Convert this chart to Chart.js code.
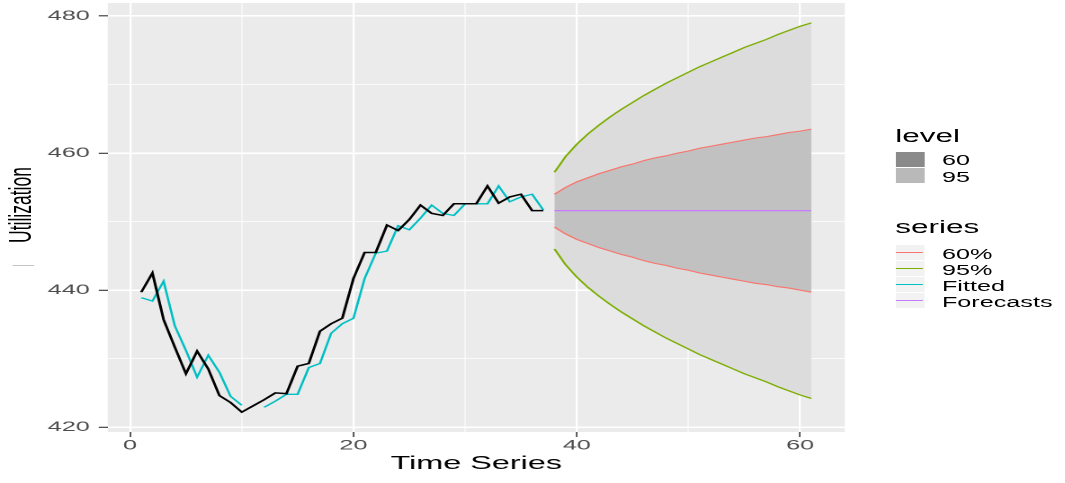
<!DOCTYPE html>
<html>
<head>
<meta charset="utf-8">
<script src="https://cdn.jsdelivr.net/npm/chart.js@4.4.1/dist/chart.umd.min.js"></script>
<style>
  body { margin: 0; background: #ffffff; overflow: hidden; }
  /* the reference is a horizontally stretched R plot, so draw narrow and stretch */
  #wrap { position: absolute; left: 0; top: 0; width: 592px; height: 483px;
          transform: scaleX(1.799); transform-origin: 0 0;
          font-family: "Liberation Sans", Arial, sans-serif; }
  #wrap canvas { position: absolute; left: 0; top: 0; }
  .lbl { position: absolute; white-space: nowrap; line-height: 1; color: #000; }
  .key { position: absolute; left: 497.6px; width: 16px; height: 15px; }
  .kline { position: absolute; left: 0.7px; right: 0.7px; top: 7px; height: 1.3px; }
</style>
</head>
<body>
<div id="wrap">
  <canvas id="chart" width="592" height="483"></canvas>
  <div class="lbl" style="left:12.3px; top:205px; font-size:17.5px; transform:translate(-50%,-50%) rotate(-90deg);">Utilization</div>
  <div style="position:absolute; left:6.7px; top:265px; width:12.8px; height:1px; background:#c4c4c4;"></div>

  <div class="lbl" style="left:497.6px; top:127.5px; font-size:17.5px;">level</div>
  <div class="key" style="top:151.5px; background:#8a8a8a;"></div>
  <div class="key" style="top:167.5px; background:#b9b9b9;"></div>
  <div class="lbl" style="left:523.6px; top:153.2px; font-size:14px;">60</div>
  <div class="lbl" style="left:523.6px; top:170px; font-size:14px;">95</div>

  <div class="lbl" style="left:497.6px; top:219.2px; font-size:17.5px;">series</div>
  <div class="key" style="top:244.8px; background:#f2f2f2;"><div class="kline" style="background:#F8766D;"></div></div>
  <div class="key" style="top:260.8px; background:#f2f2f2;"><div class="kline" style="background:#7CAE00;"></div></div>
  <div class="key" style="top:276.8px; background:#f2f2f2;"><div class="kline" style="background:#00BFC4;"></div></div>
  <div class="key" style="top:292.8px; background:#f2f2f2;"><div class="kline" style="background:#C77CFF;"></div></div>
  <div class="lbl" style="left:523.6px; top:246.5px; font-size:14px;">60%</div>
  <div class="lbl" style="left:523.6px; top:262.5px; font-size:14px;">95%</div>
  <div class="lbl" style="left:523.6px; top:278.5px; font-size:14px;">Fitted</div>
  <div class="lbl" style="left:523.6px; top:294.5px; font-size:14px;">Forecasts</div>
</div>
<script>
// observed series and fitted values
const obsTime = [1,2,3,4,5,6,7,8,9,10,11,12,13,14,15,16,17,18,19,20,21,22,23,24,25,26,27,28,29,30,31,32,33,34,35,36,37];
const obsVals = [439.7,442.5,435.7,431.7,427.8,431.1,428.5,424.6,423.6,422.2,423.1,424.0,425.0,424.9,428.9,429.3,434.0,435.1,435.9,441.7,
                 445.5,445.5,449.5,448.7,450.3,452.4,451.2,450.9,452.6,452.6,452.6,455.2,452.7,453.6,454.0,451.6,451.6];
const fitVals = [438.9,438.4,441.3,434.8,431.2,427.3,430.5,428.0,424.5,423.2,null,422.9,423.8,424.8,424.8,428.7,429.3,433.7,435.1,435.9,
                 441.7,445.4,445.7,449.4,448.8,450.5,452.4,451.2,450.9,452.6,452.6,452.6,455.2,452.9,453.6,454.0,451.7];

// forecast horizon
const fcTime = [38,39,40,41,42,43,44,45,46,47,48,49,50,51,52,53,54,55,56,57,58,59,60,61];
const fcMean = [451.6,451.6,451.6,451.6,451.6,451.6,451.6,451.6,451.6,451.6,451.6,451.6,
                451.6,451.6,451.6,451.6,451.6,451.6,451.6,451.6,451.6,451.6,451.6,451.6];
const hi60 = [454.0,455.0,455.8,456.4,457.0,457.5,458.0,458.4,458.9,459.3,459.6,460.0,
              460.3,460.7,461.0,461.3,461.6,461.9,462.2,462.4,462.7,463.0,463.2,463.5];
const lo60 = [449.2,448.2,447.4,446.8,446.2,445.7,445.2,444.8,444.3,443.9,443.6,443.2,
              442.9,442.5,442.2,441.9,441.6,441.3,441.0,440.8,440.5,440.3,440.0,439.7];
const hi95 = [457.2,459.5,461.3,462.8,464.1,465.3,466.4,467.4,468.4,469.3,470.2,471.0,
              471.8,472.6,473.3,474.0,474.7,475.4,476.0,476.6,477.3,477.9,478.5,479.0];
const lo95 = [446.0,443.7,441.9,440.4,439.1,437.9,436.8,435.8,434.8,433.9,433.0,432.2,
              431.4,430.6,429.9,429.2,428.5,427.8,427.2,426.6,425.9,425.3,424.7,424.2];

const xTicks = [0,10,20,30,40,50,60];
const yTicks = [420,430,440,450,460,470,480];

function pts(xs, ys) {
    return xs.map((x, i) => ({ x: x, y: ys[i] }));
}

const panelBg = {
    id: 'panelBg',
    beforeDraw(chart) {
        const a = chart.chartArea;
        const ctx = chart.ctx;
        ctx.save();
        ctx.fillStyle = '#ebebeb';
        ctx.fillRect(a.left, a.top, a.right - a.left, a.bottom - a.top);
        ctx.restore();
    }
};

const font = { family: '"Liberation Sans", Arial, sans-serif', size: 14 };

new Chart(document.getElementById('chart'), {
    type: 'line',
    data: {
        datasets: [
            { label: 'Observed', data: pts(obsTime, obsVals), borderColor: '#000000', borderWidth: 1.5 },
            { label: 'Fitted', data: pts(obsTime, fitVals), borderColor: '#00BFC4', borderWidth: 1.3, spanGaps: false },
            { label: 'Forecasts', data: pts(fcTime, fcMean), borderColor: '#C77CFF', borderWidth: 1.2 },
            { label: '60% hi', data: pts(fcTime, hi60), borderColor: '#F8766D', borderWidth: 1.1 },
            { label: '60% lo', data: pts(fcTime, lo60), borderColor: '#F8766D', borderWidth: 1.1,
              fill: '-1', backgroundColor: '#c1c1c1' },
            { label: '95% hi', data: pts(fcTime, hi95), borderColor: '#7CAE00', borderWidth: 1.2 },
            { label: '95% lo', data: pts(fcTime, lo95), borderColor: '#7CAE00', borderWidth: 1.2,
              fill: '-1', backgroundColor: '#dcdcdc' }
        ]
    },
    options: {
        responsive: false,
        animation: false,
        devicePixelRatio: 2,
        layout: { padding: { left: 0, right: 122.4, top: 3, bottom: 0 } },
        elements: { point: { radius: 0 }, line: { tension: 0, fill: false } },
        plugins: { legend: { display: false }, tooltip: { enabled: false } },
        scales: {
            x: {
                type: 'linear', min: -2, max: 64,
                afterBuildTicks: s => { s.ticks = xTicks.map(v => ({ value: v })); },
                afterFit: s => { s.height = 51; s.paddingLeft = 0; s.paddingRight = 0; },
                border: { display: false },
                grid: {
                    color: '#ffffff',
                    lineWidth: c => (c.tick && c.tick.value % 20 === 0) ? 1.1 : 0.55,
                    tickColor: c => (c.tick && c.tick.value % 20 === 0) ? '#333333' : 'rgba(0,0,0,0)',
                    tickWidth: 0.8,
                    tickLength: 5
                },
                ticks: {
                    autoSkip: false, maxRotation: 0, padding: 0, color: '#4d4d4d', font: font,
                    callback: v => v % 20 === 0 ? String(v) : ''
                },
                title: {
                    display: true, text: 'Time Series', color: '#000000',
                    font: { family: font.family, size: 18 }, padding: { top: 0, bottom: 8.2 }
                }
            },
            y: {
                min: 419.3, max: 481.9,
                afterBuildTicks: s => { s.ticks = yTicks.map(v => ({ value: v })); },
                afterFit: s => { s.width = 59.9; s.paddingTop = 0; s.paddingBottom = 0; },
                border: { display: false },
                grid: {
                    color: '#ffffff',
                    lineWidth: c => (c.tick && c.tick.value % 20 === 0) ? 1.6 : 0.8,
                    tickColor: c => (c.tick && c.tick.value % 20 === 0) ? '#333333' : 'rgba(0,0,0,0)',
                    tickWidth: 1.1,
                    tickLength: 5
                },
                ticks: {
                    autoSkip: false, padding: 5, color: '#4d4d4d', font: font,
                    callback: v => v % 20 === 0 ? String(v) : ''
                }
            }
        }
    },
    plugins: [panelBg]
});
</script>
</body>
</html>
